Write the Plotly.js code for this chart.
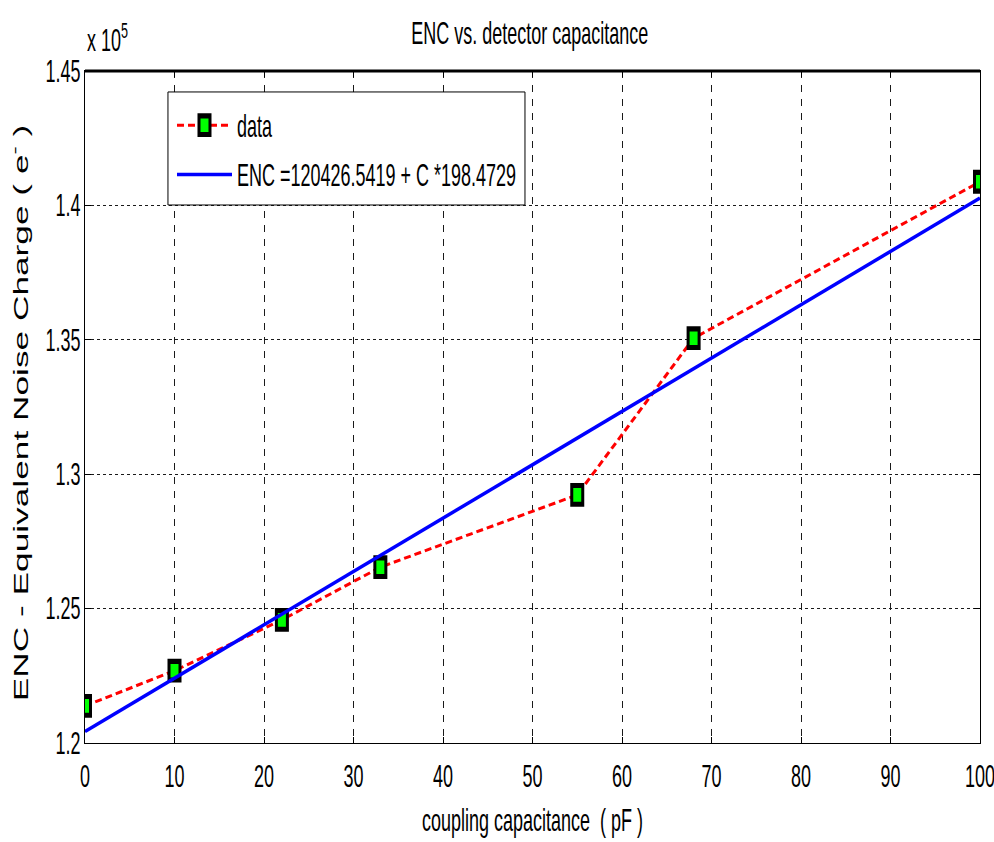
<!DOCTYPE html>
<html>
<head>
<meta charset="utf-8">
<script src="https://cdn.plot.ly/plotly-3.0.1.min.js"></script>
<style>
html,body{margin:0;padding:0;background:#fff;}
#chart{width:994px;height:842px;}
</style>
</head>
<body>
<div id="chart"></div>
<script>
// Data (ENC in units of 1e5 electrons)
const capacitance = [0, 10, 22, 33, 55, 68, 100];
const encData = [1.2138, 1.2269, 1.2458, 1.2654, 1.2923, 1.3506, 1.4088];
const fitX = [0, 100];
const fitY = [1.20427, 1.40273];
const xTicks = [0, 10, 20, 30, 40, 50, 60, 70, 80, 90, 100];
const yTicks = [1.2, 1.25, 1.3, 1.35, 1.4, 1.45];
const yTickLabels = ["1.2", "1.25", "1.3", "1.35", "1.4", "1.45"];
const dataName = "data";
const fitName = "ENC =120426.5419 + C *198.4729";

const FONT = "'Liberation Sans', Arial, sans-serif";
const STRETCH = 1.75;   // the reference's text looks vertically stretched

const traces = [
  {
    x: capacitance, y: encData, name: dataName, type: 'scatter', mode: 'lines+markers',
    line: {color: '#ff0000', width: 3, dash: '7px,4px'},
    marker: {symbol: 'square', size: 11, color: '#00ff00', line: {color: '#000000', width: 3}},
    legendgroup: 'a'
  },
  {
    x: fitX, y: fitY, name: fitName, type: 'scatter', mode: 'lines',
    line: {color: '#0000ff', width: 3.5},
    legendgroup: 'b'
  }
];

const layout = {
  width: 994, height: 842,
  paper_bgcolor: '#ffffff', plot_bgcolor: '#ffffff',
  margin: {l: 85, r: 14, t: 71, b: 99},
  font: {family: FONT, size: 18, color: '#000000'},
  title: {text: 'ENC vs. detector capacitance', x: 0.533, xanchor: 'center', y: 0.961, yanchor: 'middle',
          font: {family: FONT, size: 18, color: '#000'}},
  showlegend: true,
  legend: {x: 0.0972, xanchor: 'left', y: 0.9464, yanchor: 'top', bgcolor: 'rgba(0,0,0,0)',
           borderwidth: 0, itemwidth: 55, tracegroupgap: 23,
           font: {family: FONT, size: 18, color: '#000'}},
  xaxis: {
    range: [0, 100], tickvals: xTicks, ticktext: xTicks.map(String),
    showgrid: true, gridcolor: '#1a1a1a', gridwidth: 1, griddash: '7px,7px',
    showline: true, linecolor: '#000000', linewidth: 1, mirror: 'ticks',
    ticks: 'inside', ticklen: 6, tickcolor: '#000', zeroline: false,
    ticklabeloverflow: 'allow', ticklabelstandoff: 17,
    tickfont: {family: FONT, size: 18, color: '#000'},
    title: {text: 'coupling capacitance  ( pF )', standoff: 28, font: {family: FONT, size: 18, color: '#000'}}
  },
  yaxis: {
    range: [1.2, 1.45], tickvals: yTicks, ticktext: yTickLabels,
    showgrid: true, gridcolor: '#1a1a1a', gridwidth: 1, griddash: '3px,3px',
    showline: true, linecolor: '#000000', linewidth: 1, mirror: 'ticks',
    ticks: 'inside', ticklen: 6, tickcolor: '#000', zeroline: false,
    ticklabeloverflow: 'allow', ticklabelstandoff: 0,
    tickfont: {family: FONT, size: 18, color: '#000'},
    title: {text: 'ENC - Equivalent Noise Charge ( e<sup>-</sup> )', standoff: 10,
            font: {family: FONT, size: 21, color: '#000'}}
  },
  shapes: [
    {type: 'line', xref: 'paper', yref: 'paper', x0: 0, x1: 1, y0: 1, y1: 1,
     line: {color: '#000', width: 3}},
    // legend frame
    {type: 'rect', xref: 'paper', yref: 'paper', layer: 'above',
     x0: 0.0927, x1: 0.4916, y0: 0.8006, y1: 0.9688,
     fillcolor: '#ffffff', line: {color: '#000', width: 1}}
  ],
  annotations: [
    {text: 'x 10<sup>5</sup>', xref: 'paper', yref: 'paper', x: 0, y: 1.028, xanchor: 'left', yanchor: 'bottom',
     showarrow: false, font: {family: FONT, size: 18, color: '#000'}}
  ]
};

function stretchOne(t, k, dy) {
  if (!t.textContent.trim()) return;
  const r = t.getBoundingClientRect();
  if (!r.width) return;
  const svg = t.ownerSVGElement;
  const m = t.parentNode.getScreenCTM();
  const pt = svg.createSVGPoint();
  pt.x = r.left + r.width / 2; pt.y = r.top + r.height / 2;
  const p = pt.matrixTransform(m.inverse());
  const old = t.getAttribute('transform') || '';
  t.setAttribute('transform', 'translate(0,' + (p.y + dy) + ') scale(1,' + k + ') translate(0,' + (-p.y) + ') ' + old);
}

function stretchTexts(k) {
  const root = document.getElementById('chart');
  root.querySelectorAll('svg text').forEach(function (t) {
    if (t.classList.contains('ytitle')) stretchOne(t, 1.68, 6);
    else stretchOne(t, k, 0);
  });
  root.querySelectorAll('.scatterlayer .point, .legendpoints .scatterpts').forEach(function (pth) {
    const old = pth.getAttribute('transform') || '';
    pth.setAttribute('transform', old + ' scale(1,1.7)');
  });
}

Plotly.newPlot('chart', traces, layout, {displayModeBar: false, staticPlot: true}).then(function () {
  stretchTexts(STRETCH);
});
</script>
</body>
</html>
